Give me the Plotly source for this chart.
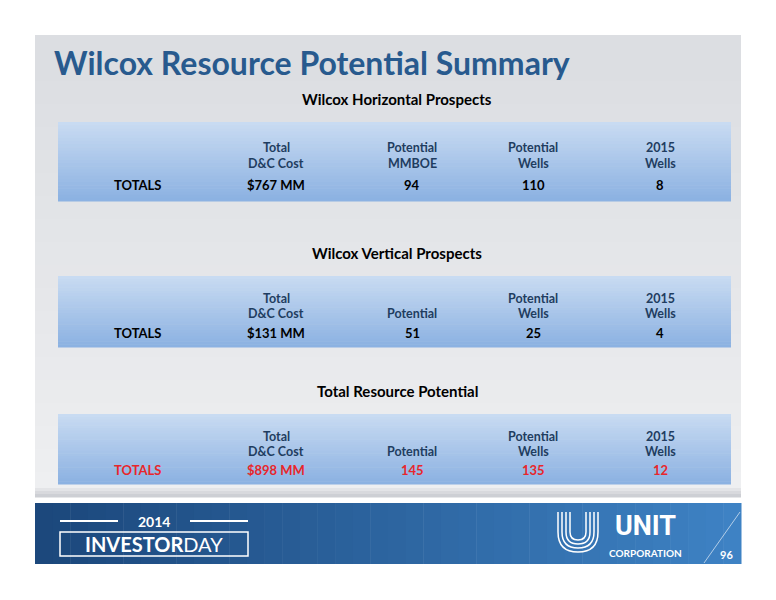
import plotly.graph_objects as go

title = "Wilcox Resource Potential Summary"
section_titles = ["Wilcox Horizontal Prospects", "Wilcox Vertical Prospects", "Total Resource Potential"]
header_line1 = [["Total", "Potential", "Potential", "2015"],
                ["Total", "", "Potential", "2015"],
                ["Total", "", "Potential", "2015"]]
header_line2 = [["D&C Cost", "MMBOE", "Wells", "Wells"],
                ["D&C Cost", "Potential", "Wells", "Wells"],
                ["D&C Cost", "Potential", "Wells", "Wells"]]
row_label = "TOTALS"
row_values = [["$767 MM", "94", "110", "8"],
              ["$131 MM", "51", "25", "4"],
              ["$898 MM", "145", "135", "12"]]
value_colors = ["black", "black", "#e8262b"]
page_number = "96"

F = "Lato"
fig = go.Figure()
shapes = []
ann = []

def grad(x0, x1, y0, y1, c0, c1, n=30, vertical=True):
    for i in range(n):
        t = i / (n - 1)
        col = "rgb(%d,%d,%d)" % tuple(int(c0[k] + (c1[k] - c0[k]) * t) for k in range(3))
        if vertical:
            a = y0 + (y1 - y0) * i / n; b = y0 + (y1 - y0) * (i + 1) / n + 0.5
            shapes.append(dict(type="rect", x0=x0, x1=x1, y0=a, y1=b, fillcolor=col, line_width=0, layer="below"))
        else:
            a = x0 + (x1 - x0) * i / n; b = x0 + (x1 - x0) * (i + 1) / n + 0.5
            shapes.append(dict(type="rect", x0=a, x1=b, y0=y0, y1=y1, fillcolor=col, line_width=0, layer="below"))

# slide panel
grad(35, 741, 35, 495, (220, 222, 226), (238, 239, 241), n=20)
grad(35, 741, 485, 497, (238, 239, 241), (205, 207, 212), n=4)
# banner
grad(35, 741, 503, 564, (28, 72, 124), (62, 130, 196), n=40, vertical=False)

# tables
boxes = [(122, 201), (276, 347), (414, 484)]
cols = [276, 412, 533, 660]
for ti, (y0, y1) in enumerate(boxes):
    grad(58, 731, y0, y1, (200, 219, 242), (140, 178, 226), n=25)
    ann.append(dict(x=397, y=y0 - 23, text="<b>%s</b>" % section_titles[ti], font=dict(size=15, color="black", family=F), showarrow=False))
    h = y1 - y0
    l1, l2, v = y0 + h * 0.32, y0 + h * 0.53, y0 + h * 0.8
    ann.append(dict(x=137, y=v, text="<b>%s</b>" % row_label, font=dict(size=13, color=value_colors[ti], family=F), showarrow=False))
    for ci, cx in enumerate(cols):
        if header_line1[ti][ci]:
            ann.append(dict(x=cx, y=l1, text="<b>%s</b>" % header_line1[ti][ci], font=dict(size=12.5, color="#1f3d60", family=F), showarrow=False))
        ann.append(dict(x=cx, y=l2, text="<b>%s</b>" % header_line2[ti][ci], font=dict(size=12.5, color="#1f3d60", family=F), showarrow=False))
        ann.append(dict(x=cx, y=v, text="<b>%s</b>" % row_values[ti][ci], font=dict(size=13, color=value_colors[ti], family=F), showarrow=False))

ann.append(dict(x=52, y=62, text="<b>%s</b>" % title, xanchor="left", font=dict(size=32, color="#285a8e", family=F), showarrow=False))

# investor day logo
shapes.append(dict(type="rect", x0=60, x1=248, y0=532, y1=556, line=dict(color="white", width=1.5), fillcolor="rgba(0,0,0,0)"))
shapes.append(dict(type="line", x0=60, x1=118, y0=521, y1=521, line=dict(color="white", width=2)))
shapes.append(dict(type="line", x0=190, x1=248, y0=521, y1=521, line=dict(color="white", width=2)))
ann.append(dict(x=154, y=521, text="<b>2014</b>", font=dict(size=14, color="white", family=F), showarrow=False))
ann.append(dict(x=154, y=544, text="<b>INVESTOR</b>DAY", font=dict(size=20, color="white", family=F), showarrow=False))
# UNIT logo
for r in [8, 12, 16, 20]:
    shapes.append(dict(type="path", path="M %d 512 L %d 532 Q %d %d 578 %d Q %d %d %d 532 L %d 512" % (578 - r, 578 - r, 578 - r, 532 + r, 532 + r, 578 + r, 532 + r, 578 + r, 578 + r),
                       line=dict(color="white", width=1.5)))
ann.append(dict(x=645, y=526, text="<b>UNIT</b>", font=dict(size=27, color="white", family="Roboto"), showarrow=False))
ann.append(dict(x=645, y=553, text="<b>CORPORATION</b>", font=dict(size=10, color="white", family=F), showarrow=False))
shapes.append(dict(type="line", x0=704, x1=740, y0=563, y1=512, line=dict(color="rgba(255,255,255,0.6)", width=1)))
ann.append(dict(x=726, y=554, text="<b>%s</b>" % page_number, font=dict(size=11, color="white", family=F), showarrow=False))

# page body has an 8px margin; shift the axis ranges to compensate
fig.update_layout(width=776, height=600, margin=dict(l=0, r=0, t=0, b=0),
                  paper_bgcolor="white", plot_bgcolor="white", shapes=shapes, annotations=ann,
                  xaxis=dict(range=[8, 784], visible=False, fixedrange=True),
                  yaxis=dict(range=[608, 8], visible=False, fixedrange=True), showlegend=False)
fig.write_html("out.html")
